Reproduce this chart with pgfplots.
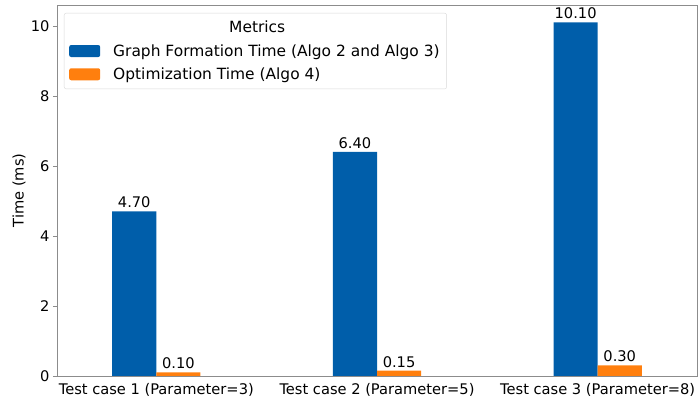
\documentclass[border=0pt]{standalone}
\usepackage{pgfplots}
\pgfplotsset{compat=1.18}
\usepackage{fontspec}
\setmainfont{DejaVu Sans}
\definecolor{cblue}{RGB}{0,94,170}
\definecolor{corange}{RGB}{255,127,14}
\definecolor{framegray}{RGB}{140,140,140}
\begin{document}
\begin{tikzpicture}
\begin{axis}[
  name=ax,
  scale only axis,
  width=640bp, height=371bp,
  xmin=-0.45, xmax=2.45,
  ymin=0, ymax=10.6,
  xtick={0,1,2},
  xticklabels={Test case 1 (Parameter=3),Test case 2 (Parameter=5),Test case 3 (Parameter=8)},
  ytick={0,2,4,6,8,10},
  ytick pos=left,
  x tick style={draw=none},
  y tick style={framegray, line width=0.8pt},
  tick align=outside,
  major tick length=4bp,
  axis line style={framegray, line width=0.8pt},
  ylabel={Time (ms)},
  ylabel style={at={(axis description cs:0,0.5)}, anchor=center, yshift=38bp},
  tick label style={font=\fontsize{14.7}{16}\selectfont},
  label style={font=\fontsize{14.7}{16}\selectfont},
  /pgf/number format/assume math mode=true,
  ybar, bar width=0.2,
  nodes near coords,
  nodes near coords style={font=\fontsize{14.7}{16}\selectfont, /pgf/number format/fixed, /pgf/number format/fixed zerofill, /pgf/number format/precision=2},
  legend cell align=left,
  legend style={at={(axis description cs:0,1)}, anchor=north west, xshift=7bp, yshift=-8bp, draw=black!15, rounded corners=2bp, font=\fontsize{15.5}{17}\selectfont, inner xsep=5bp, inner ysep=6bp, row sep=6bp, nodes={inner sep=2bp}},
  legend image code/.code={\fill[#1] (0bp,-6bp) rectangle (31bp,6bp); \path (42bp,0bp);},
]
\addlegendimage{empty legend}
\addlegendentry{\hspace*{116bp}Metrics}
\addplot[fill=cblue, draw=none, bar shift=-0.1] coordinates {(0,4.70) (1,6.40) (2,10.10)};
\addlegendentry{Graph Formation Time (Algo 2 and Algo 3)}
\addplot[fill=corange, draw=none, bar shift=0.1] coordinates {(0,0.10) (1,0.15) (2,0.30)};
\addlegendentry{Optimization Time (Algo 4)}
\end{axis}
\pgfresetboundingbox
\path[use as bounding box] ([shift={(-57bp,-26bp)}]ax.south west) rectangle ++(700bp,402bp);
\end{tikzpicture}
\end{document}
